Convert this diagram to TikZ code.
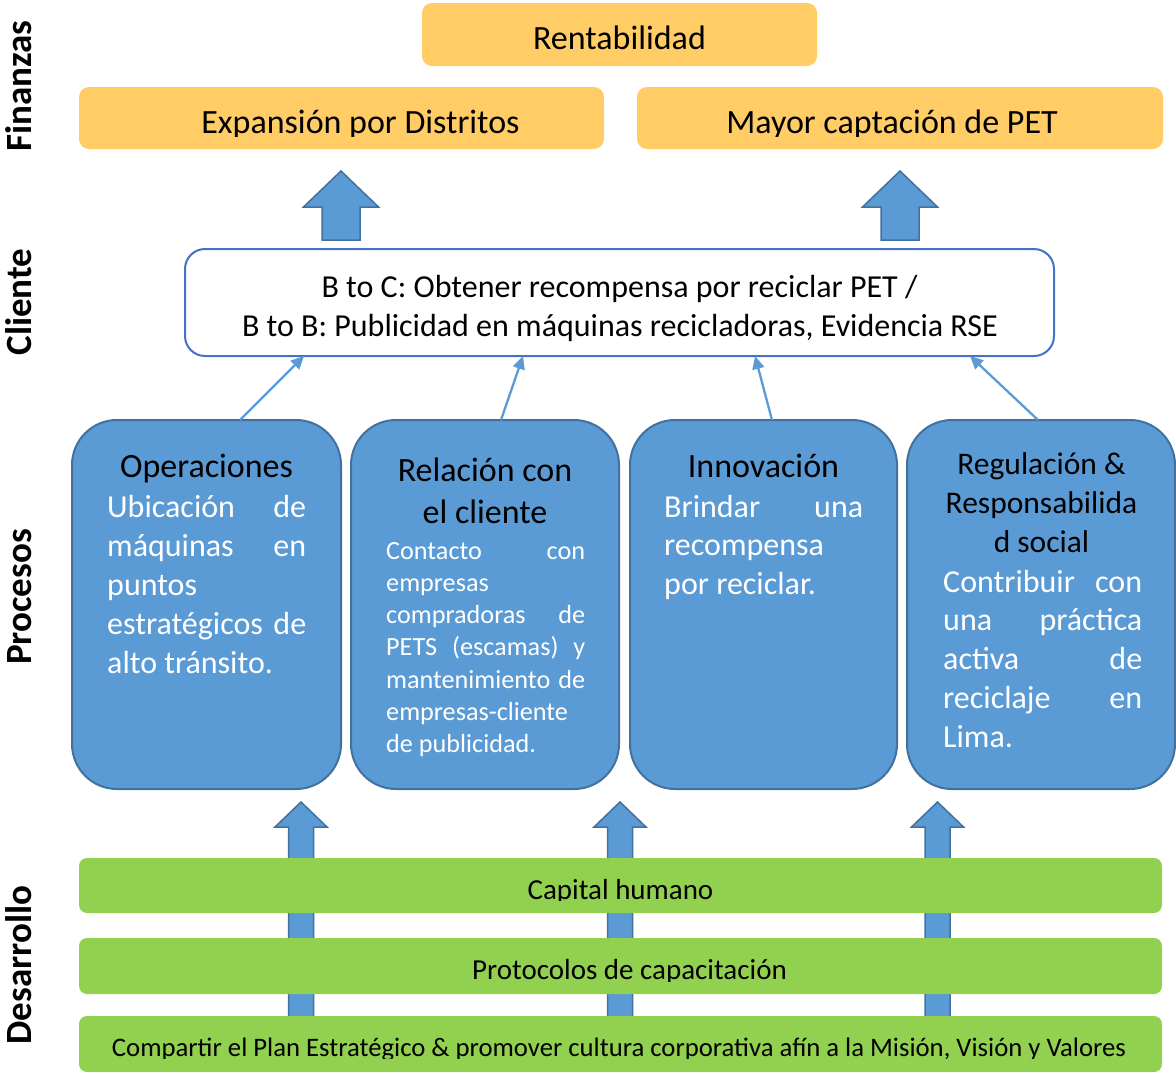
\documentclass[tikz,border=0pt]{standalone}
\usepackage{fontspec}
\setmainfont{Carlito}
\usetikzlibrary{arrows.meta}

\definecolor{finorange}{HTML}{FFCC66}
\definecolor{procblue}{HTML}{5B9BD5}
\definecolor{procedge}{HTML}{41719C}
\definecolor{clientedge}{HTML}{4472C4}
\definecolor{bargreen}{HTML}{92D050}

% justified line of full width (words separated by \hfill)
\newcommand{\jl}[1]{\leavevmode\hbox to\linewidth{#1}}
% upward block arrow: centre x, tip y, head base y, tail y, head half width, shaft half width
\newcommand{\upblock}[6]{%
  \filldraw[blockarrow] (#1-#6,#4) -- (#1-#6,#3) -- (#1-#5,#3) -- (#1,#2)
    -- (#1+#5,#3) -- (#1+#6,#3) -- (#1+#6,#4) -- cycle;}

\begin{document}
\begin{tikzpicture}[x=1pt,y=-1pt,
  box/.style={anchor=north west, inner sep=0pt, outer sep=0pt},
  finbox/.style={box, fill=finorange, rounded corners=10pt},
  clientbox/.style={box, fill=white, draw=clientedge, line width=2pt, rounded corners=20pt},
  procbox/.style={box, fill=procblue, draw=procedge, line width=2pt, rounded corners=45pt},
  barbox/.style={box, fill=bargreen, rounded corners=8pt},
  blockarrow/.style={fill=procblue, draw=procedge, line width=1.5pt, line join=miter},
  thinarrow/.style={draw=procblue, line width=2.3pt, -{Triangle[length=13pt,width=12pt]}},
  label/.style={anchor=base, inner sep=0pt, text=black},
  sidelabel/.style={rotate=90, anchor=base, inner sep=0pt,
    font=\fontsize{37}{40}\selectfont\bfseries},
  title/.style={anchor=base, inner sep=0pt, align=flush center, text width=260pt},
  body/.style={anchor=base west, inner sep=0pt, text=white, align=flush left, text width=199pt}
]
\useasboundingbox (0,0) rectangle (1176,1074);

% ---------- side labels ----------
\node[sidelabel] (lfin) at (31,86) {Finanzas};
\node[sidelabel] (lcli) at (31,302) {Cliente};
\node[sidelabel] (lpro) at (31,597) {Procesos};
\node[sidelabel] (ldes) at (31,965) {Desarrollo};

% ---------- finanzas ----------
\node[finbox, minimum width=395pt, minimum height=63pt] (rent) at (422,3) {};
\node[label, font=\fontsize{34}{40}\selectfont] (renttxt) at (619.5,49) {Rentabilidad};

\node[finbox, minimum width=525pt, minimum height=62pt] (exp) at (79,87) {};
\node[finbox, minimum width=526pt, minimum height=62pt] (may) at (637,87) {};
\begin{scope}
  \clip (79,87) rectangle (1163,136);
  \node[label, font=\fontsize{34}{40}\selectfont] (exptxt) at (360.5,133) {Expansión por Distritos};
  \node[label, font=\fontsize{34}{40}\selectfont] (maytxt) at (892,133) {Mayor captación de PET};
\end{scope}

% ---------- block arrows towards finanzas ----------
\upblock{341}{171}{207}{240}{37.5}{19}
\upblock{900}{171}{207}{240}{37.5}{19}

% ---------- cliente ----------
\node[clientbox, minimum width=869pt, minimum height=107pt] (cli) at (185,249) {};
\node[label, font=\fontsize{32}{39}\selectfont] (cli1) at (619.5,297)
  {B to C: Obtener recompensa por reciclar PET /};
\node[label, font=\fontsize{32}{39}\selectfont] (cli2) at (620,336)
  {B to B: Publicidad en máquinas recicladoras, Evidencia RSE};

% ---------- procesos ----------
\node[procbox, minimum width=269pt, minimum height=369pt] (op)  at (72,420) {};
\node[procbox, minimum width=268pt, minimum height=369pt] (rel) at (351,420) {};
\node[procbox, minimum width=267pt, minimum height=369pt] (inn) at (630,420) {};
\node[procbox, minimum width=268pt, minimum height=369pt] (reg) at (907,420) {};

\node[title, font=\fontsize{34}{42}\selectfont] (optit) at (206.5,477) {Operaciones};
\node[body, font=\fontsize{32}{39}\selectfont] (opbody) at (107,517)
  {\jl{Ubicación\hfill de}\\\jl{máquinas\hfill en}\\puntos\\\jl{estratégicos\hfill de}\\alto tránsito.};

\node[title, font=\fontsize{34}{42.5}\selectfont] (reltit) at (485,481) {Relación con\\el cliente};
\node[body, font=\fontsize{26.2}{32.33}\selectfont] (relbody) at (386,559)
  {\jl{Contacto\hfill con}\\empresas\\\jl{compradoras\hfill de}\\\jl{PETS\hfill(escamas)\hfill y}\\\jl{mantenimiento\hfill de}\\empresas-cliente\\de publicidad.};

\node[title, font=\fontsize{34}{42}\selectfont] (inntit) at (763.5,477) {Innovación};
\node[body, font=\fontsize{32}{38.5}\selectfont] (innbody) at (664,517)
  {\jl{Brindar\hfill una}\\recompensa\\por reciclar.};

\node[title, font=\fontsize{31.5}{39}\selectfont] (regtit) at (1041.5,474) {Regulación \&\\Responsabilida\\d social};
\node[body, font=\fontsize{32}{38.75}\selectfont] (regbody) at (943,592)
  {\jl{Contribuir\hfill con}\\\jl{una\hfill práctica}\\\jl{activa\hfill de}\\\jl{reciclaje\hfill en}\\Lima.};

% ---------- links from procesos to cliente ----------
\draw[thinarrow] ([xshift=33.5pt]op.north)  -- ([xshift=-315.5pt]cli.south);
\draw[thinarrow] ([xshift=16pt]rel.north)   -- ([xshift=-96.5pt]cli.south);
\draw[thinarrow] ([xshift=8.5pt]inn.north)  -- ([xshift=135.5pt]cli.south);
\draw[thinarrow] ([xshift=-3pt]reg.north)   -- ([xshift=350.5pt]cli.south);

% ---------- block arrows from desarrollo ----------
\upblock{301}{802}{827}{1040}{26}{12.5}
\upblock{620}{802}{827}{1040}{26}{12.5}
\upblock{937.5}{802}{827}{1040}{26}{12.5}

% ---------- desarrollo ----------
\node[barbox, minimum width=1083pt, minimum height=55pt] (cap) at (79,858) {};
\node[barbox, minimum width=1083pt, minimum height=56pt] (pro) at (79,938) {};
\node[barbox, minimum width=1083pt, minimum height=56pt] (com) at (79,1016) {};
\begin{scope}
  \clip (79,858) rectangle (1162,900.5);
  \node[label, font=\fontsize{29}{34}\selectfont] (captxt) at (620.5,899) {Capital humano};
\end{scope}
\begin{scope}
  \clip (79,938) rectangle (1162,981);
  \node[label, font=\fontsize{29}{34}\selectfont] (protxt) at (629.5,979.5) {Protocolos de capacitación};
\end{scope}
\begin{scope}
  \clip (79,1016) rectangle (1162,1058);
  \node[label, font=\fontsize{26.7}{30}\selectfont] (comtxt) at (619,1056)
    {Compartir el Plan Estratégico \& promover cultura corporativa afín a la Misión, Visión y Valores};
\end{scope}
\end{tikzpicture}
\end{document}
